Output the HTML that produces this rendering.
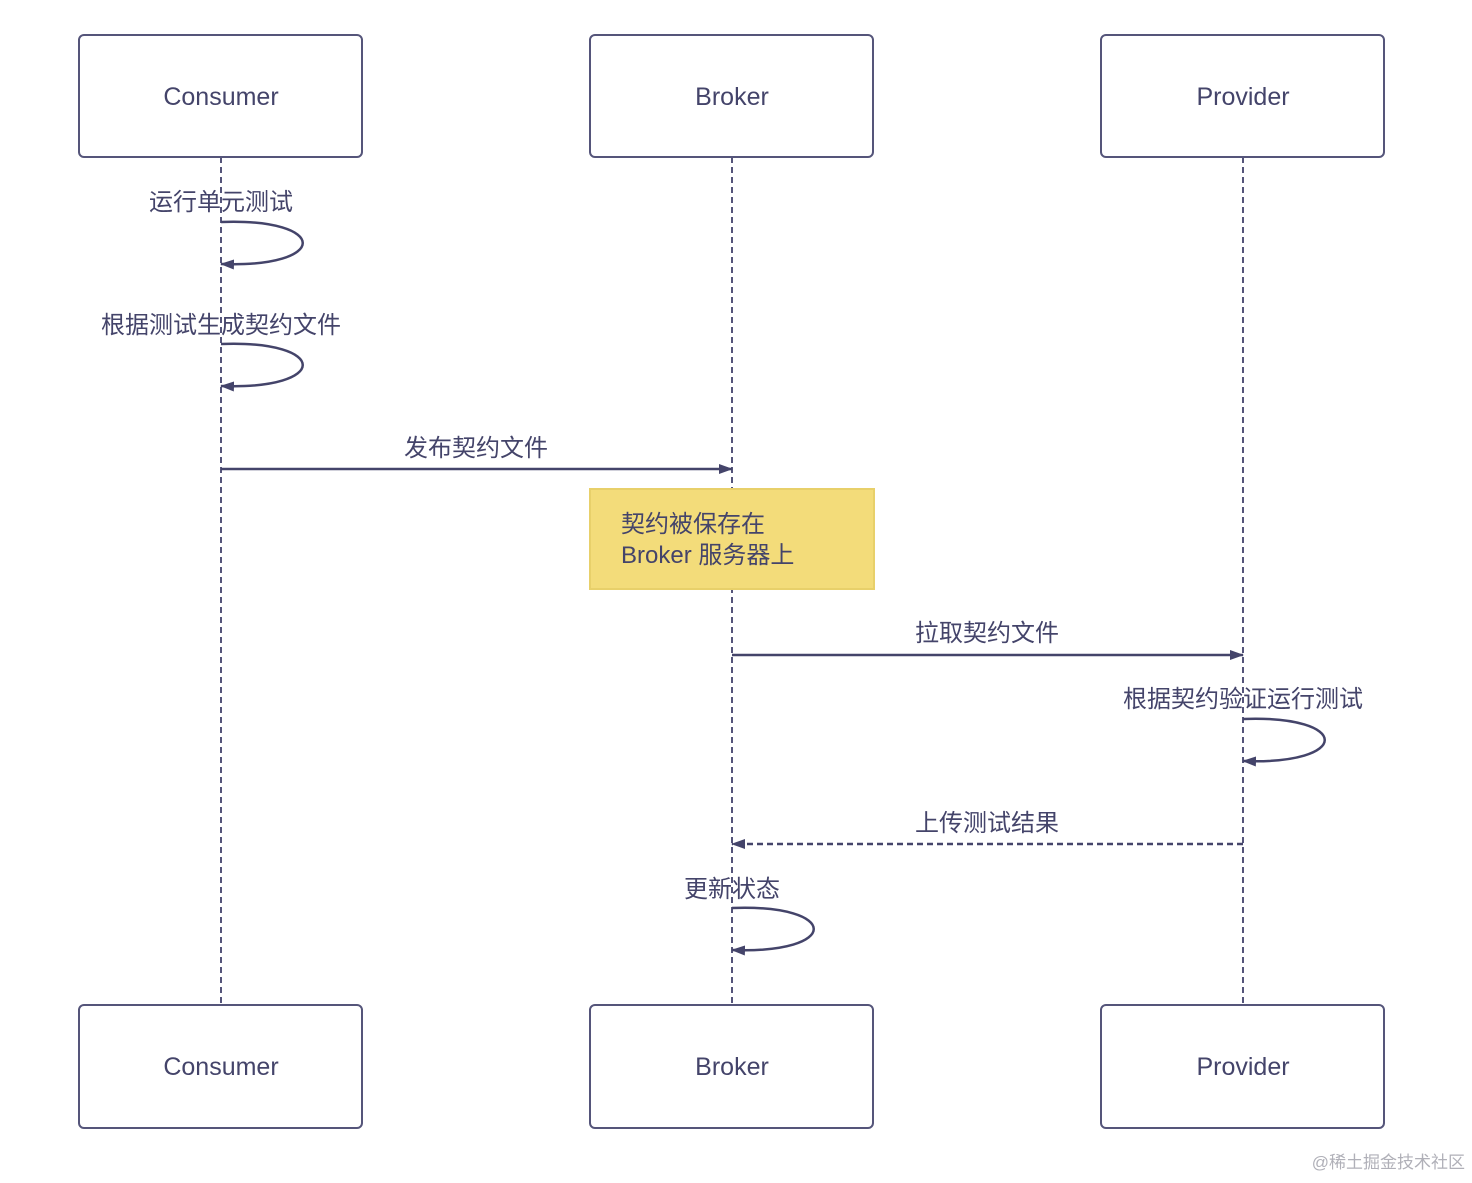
<!DOCTYPE html>
<html><head><meta charset="utf-8"><style>
html,body{margin:0;padding:0;background:#fff;}
svg text{font-family:"Liberation Sans","Noto Sans CJK SC",sans-serif;fill:#44446a;}
</style></head><body>
<svg width="1472" height="1178" viewBox="0 0 1472 1178" xmlns="http://www.w3.org/2000/svg">
<defs>
<marker id="a" markerWidth="14" markerHeight="10" refX="13" refY="5" orient="auto" markerUnits="userSpaceOnUse">
<path d="M0,0 L14,5 L0,10 z" fill="#44446a"/></marker>
</defs>
<g stroke="#55557a" stroke-width="2" stroke-dasharray="6,4" fill="none">
<line x1="221" y1="157" x2="221" y2="1005"/>
<line x1="732" y1="157" x2="732" y2="1005"/>
<line x1="1243" y1="157" x2="1243" y2="1005"/>
</g>
<g fill="#fff" stroke="#55557a" stroke-width="2">
<rect x="79" y="35" width="283" height="122" rx="5"/>
<rect x="590" y="35" width="283" height="122" rx="5"/>
<rect x="1101" y="35" width="283" height="122" rx="5"/>
<rect x="79" y="1005" width="283" height="123" rx="5"/>
<rect x="590" y="1005" width="283" height="123" rx="5"/>
<rect x="1101" y="1005" width="283" height="123" rx="5"/>
</g>
<g font-size="25" text-anchor="middle">
<text x="221" y="105">Consumer</text>
<text x="732" y="105">Broker</text>
<text x="1243" y="105">Provider</text>
<text x="221" y="1075">Consumer</text>
<text x="732" y="1075">Broker</text>
<text x="1243" y="1075">Provider</text>
</g>
<g stroke="#44446a" stroke-width="2.5" fill="none" marker-end="url(#a)">
<path d="M221,222 C330,218 330,268 221,264"/>
<path d="M221,344 C330,340 330,390 221,386"/>
<path d="M1243,719 C1352,715 1352,765 1243,761"/>
<path d="M732,908 C841,904 841,954 732,950"/>
<line x1="221" y1="469" x2="732" y2="469"/>
<line x1="732" y1="655" x2="1243" y2="655"/>
<line x1="1243" y1="844" x2="732" y2="844" stroke-dasharray="6,4"/>
</g>
<rect x="590" y="489" width="284" height="100" fill="#f3dc7a" stroke="#e8d06a" stroke-width="2"/>
<g font-size="24" text-anchor="middle">
<text x="221" y="210">运行单元测试</text>
<text x="221" y="333">根据测试生成契约文件</text>
<text x="476" y="456">发布契约文件</text>
<text x="987" y="641">拉取契约文件</text>
<text x="1243" y="707">根据契约验证运行测试</text>
<text x="987" y="831">上传测试结果</text>
<text x="732" y="897">更新状态</text>
</g>
<g font-size="24">
<text x="621" y="532">契约被保存在</text>
<text x="621" y="563">Broker 服务器上</text>
</g>
<text x="1465" y="1168" font-size="17" text-anchor="end" style="fill:#b0b0b8">@稀土掘金技术社区</text>
</svg>
</body></html>
